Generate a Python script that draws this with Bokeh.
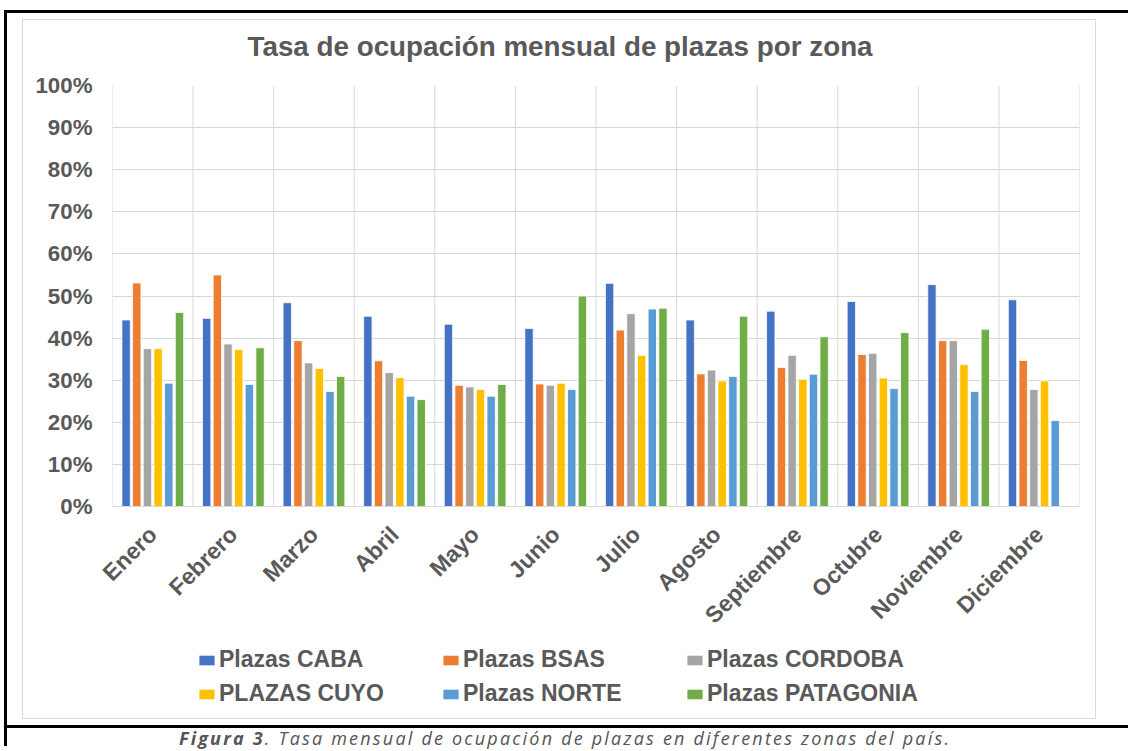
import math
from bokeh.plotting import figure
from bokeh.models import (FactorRange, Range1d, Legend, LegendItem, Span, NumeralTickFormatter,
                          FixedTicker, Div, ColumnDataSource, Title)
from bokeh.layouts import column
from bokeh.transform import dodge
from bokeh.embed import file_html
from bokeh.resources import INLINE

NaN = float("nan")

months = ["Enero", "Febrero", "Marzo", "Abril", "Mayo", "Junio", "Julio", "Agosto",
          "Septiembre", "Octubre", "Noviembre", "Diciembre"]
series_names = ["Plazas CABA", "Plazas BSAS", "Plazas CORDOBA",
                "PLAZAS CUYO", "Plazas NORTE", "Plazas PATAGONIA"]
caba = [0.443, 0.447, 0.484, 0.452, 0.433, 0.423, 0.530, 0.443, 0.464, 0.487, 0.527, 0.491]
bsas = [0.531, 0.550, 0.394, 0.346, 0.288, 0.291, 0.419, 0.315, 0.330, 0.361, 0.394, 0.347]
cordoba = [0.375, 0.386, 0.341, 0.318, 0.284, 0.288, 0.458, 0.324, 0.359, 0.364, 0.394, 0.278]
cuyo = [0.375, 0.373, 0.328, 0.306, 0.278, 0.293, 0.359, 0.298, 0.302, 0.305, 0.337, 0.298]
norte = [0.293, 0.290, 0.273, 0.262, 0.262, 0.278, 0.469, 0.309, 0.314, 0.280, 0.273, 0.204]
patagonia = [0.461, 0.377, 0.309, 0.254, 0.290, 0.500, 0.471, 0.452, 0.403, 0.413, 0.421, NaN]
y_ticks = [0.0, 0.1, 0.2, 0.3, 0.4, 0.5, 0.6, 0.7, 0.8, 0.9, 1.0]

colors = ["#4472C4", "#ED7D31", "#A5A5A5", "#FFC000", "#5B9BD5", "#70AD47"]
series_values = [caba, bsas, cordoba, cuyo, norte, patagonia]
keys = ["caba", "bsas", "cordoba", "cuyo", "norte", "patagonia"]

data = {"month": months}
for k, v in zip(keys, series_values):
    data[k] = v
source = ColumnDataSource(data)

FONT = "Liberation Sans"
TXT = "#595959"

# ---------------- main chart ----------------
p = figure(width=1072, height=620, x_range=FactorRange(*months), y_range=Range1d(0, 1),
           output_backend="svg", toolbar_location=None,
           min_border_left=89, min_border_right=16, min_border_top=65, min_border_bottom=130)
p.x_range.range_padding = 0

p.title.text = "Tasa de ocupación mensual de plazas por zona"
p.title.text_font = FONT
p.title.text_font_size = "27.8px"
p.title.text_font_style = "bold"
p.title.text_color = TXT
p.title.align = "left"
p.title.offset = 135
p.title.standoff = 14
# thin spacer between the title and the plot area
p.add_layout(Title(text=" ", text_font_size="2px", standoff=13), "above")

p.outline_line_color = None
p.background_fill_color = "white"
p.border_fill_color = "white"

p.yaxis.ticker = FixedTicker(ticks=y_ticks)
p.yaxis.formatter = NumeralTickFormatter(format="0%")
p.yaxis.axis_line_color = None
p.yaxis.major_tick_line_color = None
p.yaxis.minor_tick_line_color = None
p.yaxis.major_label_standoff = 14
p.yaxis.major_label_text_font = FONT
p.yaxis.major_label_text_font_style = "bold"
p.yaxis.major_label_text_font_size = "22.3px"
p.yaxis.major_label_text_color = TXT

p.xaxis.axis_line_color = "#d9d9d9"
p.xaxis.axis_line_width = 1
p.xaxis.major_tick_line_color = None
p.xaxis.minor_tick_line_color = None
p.xaxis.major_label_orientation = math.pi / 4
p.xaxis.major_label_standoff = 18
p.xaxis.major_label_text_font = FONT
p.xaxis.major_label_text_font_style = "bold"
p.xaxis.major_label_text_font_size = "23px"
p.xaxis.major_label_text_color = TXT

p.ygrid.ticker = FixedTicker(ticks=y_ticks)
p.ygrid.grid_line_color = "#d9d9d9"
p.ygrid.grid_line_width = 1
p.xgrid.grid_line_color = None

for k in range(len(months) + 1):
    p.add_layout(Span(location=k, dimension="height", line_color="#d9d9d9", line_width=1))

pitch = 0.1325
offsets = [(i - 2.5) * pitch for i in range(6)]
for key, off, col in zip(keys, offsets, colors):
    p.vbar(x=dodge("month", off, range=p.x_range), top=key, width=0.104, bottom=0,
           source=source, fill_color=col, line_color="white", line_width=0.8)

# ---------------- legend strip ----------------
lg = figure(width=1072, height=78, x_range=Range1d(0, 1), y_range=Range1d(0, 1),
            output_backend="svg", toolbar_location=None,
            x_axis_location=None, y_axis_location=None,
            min_border_left=0, min_border_right=0, min_border_top=0, min_border_bottom=0)
lg.outline_line_color = None
lg.grid.grid_line_color = None
lg.border_fill_color = "white"

# legend proxies (nothing visible is drawn by them)
proxies = []
for col in colors:
    proxies.append(lg.vbar(x=[NaN], top=[NaN], width=0.1, fill_color=col, line_color=None))

legend_cols = [(0, 3), (1, 4), (2, 5)]
legend_x = [85, 329, 573]
for (a, b), lx in zip(legend_cols, legend_x):
    leg = Legend(items=[LegendItem(label=series_names[a], renderers=[proxies[a]]),
                        LegendItem(label=series_names[b], renderers=[proxies[b]])],
                 location=(lx, 11), orientation="vertical",
                 glyph_width=19, glyph_height=12, label_standoff=3,
                 label_height=26, spacing=7, padding=0, margin=0,
                 border_line_color=None, background_fill_alpha=0,
                 label_text_font=FONT, label_text_font_style="bold",
                 label_text_font_size="23px", label_text_color=TXT)
    lg.add_layout(leg, "center")

inner = column(p, lg, spacing=0, margin=(6, 0, 0, 15),
               styles={"border": "1px solid #d9d9d9"})

cap = Div(text='<div style="margin-right:5px"><b>Figura 3</b>. Tasa mensual de ocupación de plazas en diferentes zonas del país.</div>',
          width=1121, height=21, margin=(6, 0, 0, 0),
          styles={"border-top": "3px solid black", "font-family": "'Open Sans'",
                  "font-style": "italic", "font-size": "18px", "letter-spacing": "2.2px",
                  "color": "#555555", "text-align": "center", "line-height": "21px"})

layout = column(inner, cap, spacing=0, margin=(10, 0, 0, 4),
                styles={"border-left": "3px solid black", "border-top": "3px solid black"})

open("out.html", "w").write(file_html(layout, INLINE))
